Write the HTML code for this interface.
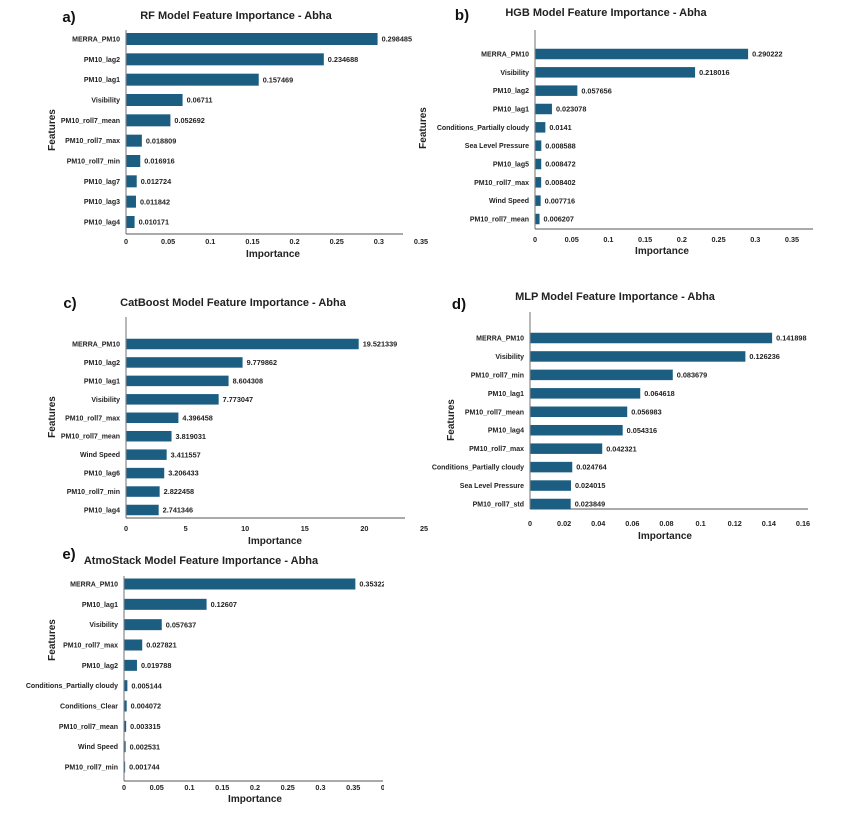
<!DOCTYPE html>
<html><head><meta charset="utf-8"><style>
html,body{margin:0;padding:0;background:#fff;width:852px;height:815px;overflow:hidden}
svg{display:block;font-family:"Liberation Sans",Arial,sans-serif}
.lbl{font-size:7px;font-weight:bold;fill:#222}
.val{font-size:7.3px;font-weight:bold;fill:#222}
.tick{font-size:7.3px;font-weight:bold;fill:#222}
.title{font-size:11px;font-weight:bold;fill:#222}
.axt{font-size:10px;font-weight:bold;fill:#222}
.pl{font-size:15px;font-weight:bold;fill:#111}
</style></head><body>
<svg id="fig" width="852" height="815" viewBox="0 0 852 815"></svg>
<script>
const aFeatures=["MERRA_PM10","PM10_lag2","PM10_lag1","Visibility","PM10_roll7_mean","PM10_roll7_max","PM10_roll7_min","PM10_lag7","PM10_lag3","PM10_lag4"];
const aValues=[0.298485,0.234688,0.157469,0.06711,0.052692,0.018809,0.016916,0.012724,0.011842,0.010171];
const aTicks=["0","0.05","0.1","0.15","0.2","0.25","0.3","0.35"];
const bFeatures=["MERRA_PM10","Visibility","PM10_lag2","PM10_lag1","Conditions_Partially cloudy","Sea Level Pressure","PM10_lag5","PM10_roll7_max","Wind Speed","PM10_roll7_mean"];
const bValues=[0.290222,0.218016,0.057656,0.023078,0.0141,0.008588,0.008472,0.008402,0.007716,0.006207];
const bTicks=["0","0.05","0.1","0.15","0.2","0.25","0.3","0.35"];
const cFeatures=["MERRA_PM10","PM10_lag2","PM10_lag1","Visibility","PM10_roll7_max","PM10_roll7_mean","Wind Speed","PM10_lag6","PM10_roll7_min","PM10_lag4"];
const cValues=[19.521339,9.779862,8.604308,7.773047,4.396458,3.819031,3.411557,3.206433,2.822458,2.741346];
const cTicks=["0","5","10","15","20","25"];
const dFeatures=["MERRA_PM10","Visibility","PM10_roll7_min","PM10_lag1","PM10_roll7_mean","PM10_lag4","PM10_roll7_max","Conditions_Partially cloudy","Sea Level Pressure","PM10_roll7_std"];
const dValues=[0.141898,0.126236,0.083679,0.064618,0.056983,0.054316,0.042321,0.024764,0.024015,0.023849];
const dTicks=["0","0.02","0.04","0.06","0.08","0.1","0.12","0.14","0.16"];
const eFeatures=["MERRA_PM10","PM10_lag1","Visibility","PM10_roll7_max","PM10_lag2","Conditions_Partially cloudy","Conditions_Clear","PM10_roll7_mean","Wind Speed","PM10_roll7_min"];
const eValues=[0.35322,0.12607,0.057637,0.027821,0.019788,0.005144,0.004072,0.003315,0.002531,0.001744];
const eTicks=["0","0.05","0.1","0.15","0.2","0.25","0.3","0.35","0.4"];

const NS="http://www.w3.org/2000/svg";
const svg=document.getElementById("fig");
function mk(tag,attrs,parent,text){
  const e=document.createElementNS(NS,tag);
  for(const k in attrs)e.setAttribute(k,attrs[k]);
  if(text!==undefined)e.textContent=text;
  (parent||svg).appendChild(e);return e;
}
function panel(p){
  const g=mk("g",{});
  
  
  const clipId="clip-"+p.id;
  const cp=mk("clipPath",{id:clipId},g);
  mk("rect",{x:0,y:0,width:p.clipX,height:815},cp);
  const x=v=>p.x0+(v/p.tmax)*(p.xt-p.x0);
  const n=p.features.length;
  const y=i=>p.yFirst+i*(p.yLast-p.yFirst)/(n-1);
  const pl=mk("text",{x:p.plx,y:p.ply,class:"pl","text-anchor":"middle"},g,p.letter);
  
  
  const t=mk("text",{x:p.tx,y:p.ty,class:"title","text-anchor":"middle"},g,p.title);
  
  
  const yl=mk("line",{x1:p.x0,y1:p.yTop,x2:p.x0,y2:p.yAxis,stroke:"#888","stroke-width":1.2},g);
  
  
  const xl=mk("line",{x1:p.x0,y1:p.yAxis,x2:p.xEnd,y2:p.yAxis,stroke:"#555","stroke-width":1},g);
  
  
  const cg=mk("g",{"clip-path":"url(#"+clipId+")"},g);
  for(let i=0;i<n;i++){
    const yc=y(i),v=p.values[i];
    const b=mk("rect",{x:p.x0+0.5,y:yc-p.bh/2,width:Math.max(0,x(v)-p.x0-0.5),height:p.bh,fill:"#1b5e82"},g);
    
    
    const l=mk("text",{x:p.x0-6,y:yc+2.5,class:"lbl","text-anchor":"end"},g,p.features[i]);
    
    
    const vl=mk("text",{x:x(v)+4,y:yc+2.6,class:"val"},cg,String(v));
    
    
  }
  const step=p.tmax/(p.ticks.length-1);
  const tg=mk("g",{"clip-path":"url(#"+clipId+")"},g);
  p.ticks.forEach((tk,i)=>{
    const tl=mk("text",{x:x(i*step),y:p.yTick,class:"tick","text-anchor":"middle"},tg,tk);
    
    
  });
  const xa=mk("text",{x:p.xlx,y:p.xly,class:"axt","text-anchor":"middle"},g,"Importance");
  
  
  const ya=mk("text",{x:0,y:0,class:"axt","text-anchor":"middle",transform:"translate("+p.ylx+","+p.yly+") rotate(-90)"},g,"Features");
  
  
}
panel({id:"rf",letter:"a)",plx:69,ply:22,title:"RF Model Feature Importance - Abha",tx:236,ty:19,
  features:aFeatures,values:aValues,ticks:aTicks,tmax:0.35,x0:126,xt:421,xEnd:403,yTop:30,yAxis:234,
  yFirst:39,yLast:222,bh:12,yTick:244,xlx:273,xly:257,ylx:55,yly:130,clipX:852});
panel({id:"hgb",letter:"b)",plx:462,ply:20,title:"HGB Model Feature Importance - Abha",tx:606,ty:16,
  features:bFeatures,values:bValues,ticks:bTicks,tmax:0.35,x0:535,xt:792,xEnd:813,yTop:30,yAxis:229,
  yFirst:54,yLast:219,bh:10.5,yTick:242,xlx:662,xly:254,ylx:426,yly:128,clipX:852});
panel({id:"catboost",letter:"c)",plx:70,ply:308,title:"CatBoost Model Feature Importance - Abha",tx:233,ty:306,
  features:cFeatures,values:cValues,ticks:cTicks,tmax:25,x0:126,xt:424,xEnd:405,yTop:317,yAxis:518,
  yFirst:344,yLast:510,bh:10.5,yTick:531,xlx:275,xly:544,ylx:55,yly:417,clipX:852});
panel({id:"mlp",letter:"d)",plx:459,ply:309,title:"MLP Model Feature Importance - Abha",tx:615,ty:300,
  features:dFeatures,values:dValues,ticks:dTicks,tmax:0.16,x0:530,xt:803,xEnd:808,yTop:312,yAxis:509,
  yFirst:338,yLast:504,bh:10.5,yTick:526,xlx:665,xly:539,ylx:454,yly:420,clipX:852});
panel({id:"atmostack",letter:"e)",plx:69,ply:559,title:"AtmoStack Model Feature Importance - Abha",tx:201,ty:564,
  features:eFeatures,values:eValues,ticks:eTicks,tmax:0.4,x0:124,xt:386,xEnd:383,yTop:576,yAxis:781,
  yFirst:584,yLast:767,bh:11,yTick:790,xlx:255,xly:802,ylx:55,yly:640,clipX:384});
</script>
</body></html>
